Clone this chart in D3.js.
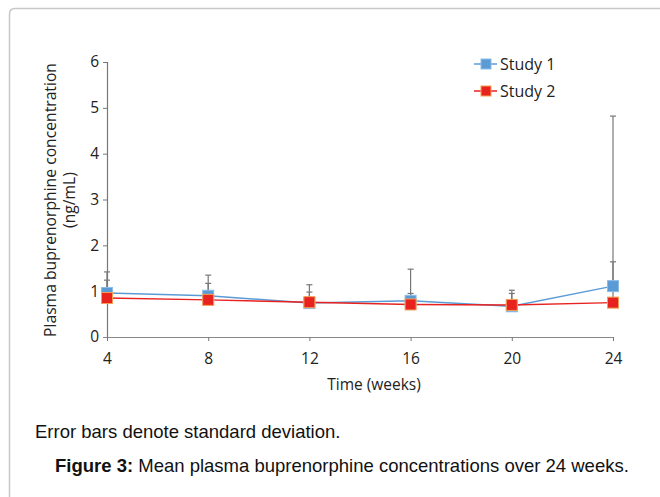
<!DOCTYPE html>
<html><head><meta charset="utf-8">
<script src="https://cdn.jsdelivr.net/npm/d3@7"></script>
<style>body{margin:0;background:#fff;} svg{display:block;}</style>
</head><body>
<script>
const weeks = [4, 8, 12, 16, 20, 24];
const study1 = [0.96, 0.90, 0.74, 0.79, 0.67, 1.11];
const study1Upper = [1.42, 1.35, 1.14, 1.48, 1.02, 4.82];
const study2 = [0.85, 0.81, 0.76, 0.71, 0.70, 0.75];
const study2Upper = [1.24, 1.17, 0.98, 0.95, 0.95, 1.64];
const yTicks = [0, 1, 2, 3, 4, 5, 6];
const seriesNames = ["Study 1", "Study 2"];

const W = 660, H = 497;
const svg = d3.select("body").append("svg").attr("width", W).attr("height", H);

// frame
svg.append("path")
  .attr("d", "M9.5,600 L9.5,14 Q9.5,8.5 15,8.5 L700,8.5")
  .attr("fill", "none").attr("stroke", "#c8c8c8").attr("stroke-width", 1.5);

const x = d3.scaleLinear().domain([4, 24]).range([107, 613]);
const y = d3.scaleLinear().domain([0, 6]).range([337, 62]);

const font = "'Open Sans', sans-serif";

// y axis
const gy = svg.append("g").attr("transform", "translate(107,0)")
  .call(d3.axisLeft(y).tickValues(yTicks).tickSize(4).tickPadding(4).tickFormat(d3.format("d")));
gy.select(".domain").attr("stroke", "#777").attr("stroke-width", 1.2).attr("d", "M-4,62.5H0.5V337.5H-4");
gy.selectAll(".tick line").attr("stroke", "#777");
gy.selectAll("text").attr("font-family", font).attr("font-size", 15.5).attr("fill", "#222");

// x axis
const gx = svg.append("g").attr("transform", "translate(0,337)")
  .call(d3.axisBottom(x).tickValues(weeks).tickSize(4).tickPadding(12).tickFormat(d3.format("d")));
gx.select(".domain").attr("stroke", "#888").attr("stroke-width", 1.2).attr("d", "M103,0.5H613");
gx.selectAll(".tick line").attr("stroke", "#777");
gx.selectAll("text").attr("font-family", font).attr("font-size", 15.5).attr("fill", "#222");

// axis titles
svg.append("text").attr("x", 374).attr("y", 390).attr("text-anchor", "middle")
  .attr("font-family", font).attr("font-size", 15.5).attr("fill", "#222").text("Time (weeks)");
const yt = svg.append("g").attr("transform", "translate(56,200) rotate(-90)");
yt.append("text").attr("text-anchor", "middle").attr("font-family", font).attr("font-size", 15.7)
  .attr("fill", "#222").text("Plasma buprenorphine concentration");
yt.append("text").attr("y", 19).attr("text-anchor", "middle").attr("font-family", font).attr("font-size", 15.7)
  .attr("fill", "#222").text("(ng/mL)");

const series = [
  {name: seriesNames[0], vals: study1, up: study1Upper, line: "#5b9bd5", fill: "#5b9bd5", stroke: "#8dbbe6"},
  {name: seriesNames[1], vals: study2, up: study2Upper, line: "#e8221f", fill: "#e8221f", stroke: "#f2a055"}
];

// error bars
series.forEach(s => {
  const g = svg.append("g");
  weeks.forEach((w, i) => {
    const cx = x(w);
    g.append("line").attr("x1", cx).attr("x2", cx).attr("y1", y(s.vals[i])).attr("y2", y(s.up[i]))
      .attr("stroke", "#777").attr("stroke-width", 1.2);
    g.append("line").attr("x1", cx - 3).attr("x2", cx + 3).attr("y1", y(s.up[i])).attr("y2", y(s.up[i]))
      .attr("stroke", "#777").attr("stroke-width", 1.2);
  });
});

// lines and markers
series.forEach(s => {
  const line = d3.line().x((d, i) => x(weeks[i])).y(d => y(d));
  svg.append("path").datum(s.vals).attr("d", line).attr("fill", "none")
    .attr("stroke", s.line).attr("stroke-width", 1.5);
});
series.forEach(s => {
  svg.append("g").selectAll("rect").data(s.vals).join("rect")
    .attr("x", (d, i) => x(weeks[i]) - 5.5).attr("y", d => y(d) - 5.5)
    .attr("width", 11).attr("height", 11)
    .attr("fill", s.fill).attr("stroke", s.stroke).attr("stroke-width", 1);
});

// legend
series.forEach((s, i) => {
  const ly = 64 + i * 27;
  svg.append("line").attr("x1", 474).attr("x2", 497).attr("y1", ly).attr("y2", ly)
    .attr("stroke", s.line).attr("stroke-width", 1.5);
  svg.append("rect").attr("x", 481).attr("y", ly - 5).attr("width", 10).attr("height", 10)
    .attr("fill", s.fill).attr("stroke", s.stroke).attr("stroke-width", 1);
  svg.append("text").attr("x", 500).attr("y", ly + 5.5).attr("font-family", font).attr("font-size", 16)
    .attr("fill", "#222").text(s.name);
});

// footnote and caption
const af = "'Liberation Sans', Arial, sans-serif";
svg.append("text").attr("x", 35).attr("y", 438).attr("font-family", af).attr("font-size", 18.5)
  .attr("fill", "#111").text("Error bars denote standard deviation.");
const cap = svg.append("text").attr("x", 55).attr("y", 472).attr("font-family", af).attr("font-size", 18.5).attr("fill", "#111");
cap.append("tspan").attr("font-weight", "bold").text("Figure 3:");
cap.append("tspan").text(" Mean plasma buprenorphine concentrations over 24 weeks.");
</script>
</body></html>
